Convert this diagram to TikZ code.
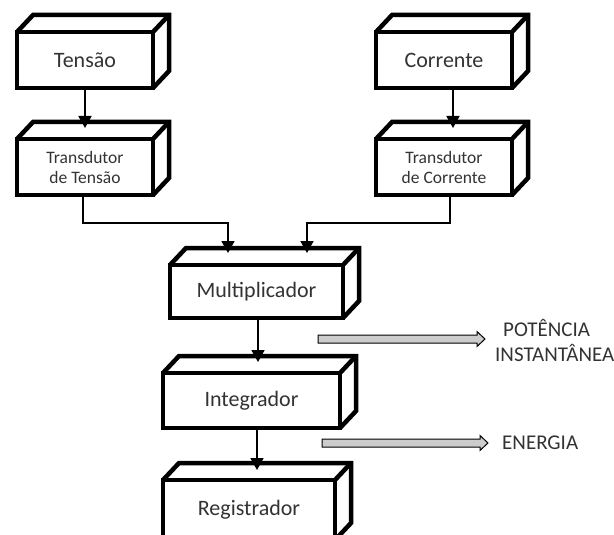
\documentclass[tikz,border=0pt]{standalone}
\usepackage{fontspec}
\setmainfont{Carlito}
\usetikzlibrary{arrows.meta,calc}
\begin{document}
\begin{tikzpicture}[x=1pt,y=-1pt,
  cube/.style={draw=black, line width=4.5pt, fill=white, inner sep=0pt, outer sep=0pt,
    text=black!80, font=\fontsize{22}{25}\selectfont, align=center},
  smalltext/.style={font=\fontsize{17.5}{20}\selectfont},
  cubeside/.style={draw=black, line width=4.5pt, line join=miter},
  conn/.style={draw=black, line width=1.8pt, -{Triangle[width=13pt,length=12pt]}},
  garrow/.style={draw=black, line width=1pt, fill=black!20},
  lbl/.style={text=black!80, font=\fontsize{21}{25}\selectfont, inner sep=0pt, align=left}]
\useasboundingbox (0,0) rectangle (614,535);
\clip (0,0) rectangle (614,535);

% front faces
\node[cube, minimum width=136pt, minimum height=56pt] (tensao) at (85,60) {Tensão};
\node[cube, minimum width=136pt, minimum height=56pt] (corrente) at (444,60) {Corrente};
\node[cube, smalltext, minimum width=136pt, minimum height=56pt] (tt) at (85,167) {Transdutor\\de Tensão};
\node[cube, smalltext, minimum width=136pt, minimum height=56pt] (tc) at (444,167) {Transdutor\\de Corrente};
\node[cube, minimum width=173pt, minimum height=53pt] (mult) at (256.5,291.5) {Multiplicador};
\node[cube, minimum width=177pt, minimum height=55pt] (integ) at (251.5,400.5) {Integrador};
\node[cube, minimum width=172pt, minimum height=60pt] (reg) at (249,510) {Registrador};

% top and side faces
\foreach \n in {tensao,corrente,tt,tc,mult,integ,reg}{
  \draw[cubeside] (\n.north west) -- ++(16,-17) -- ([shift={(16,-17)}]\n.north east)
     -- ([shift={(16,-17)}]\n.south east) -- (\n.south east);
  \draw[cubeside] (\n.north east) -- ++(16,-17);
}

% connectors
\coordinate (ttin) at ([yshift=11pt]tt.north);
\draw[conn] (tensao.south) -- (ttin);
\coordinate (tcin) at ([xshift=9pt,yshift=11pt]tc.north);
\draw[conn] ([xshift=9pt]corrente.south) -- (tcin);

\coordinate (ttout) at ([xshift=-2pt]tt.south);
\coordinate (min1) at ([xshift=-28.5pt,yshift=12pt]mult.north);
\draw[conn] (ttout) -- ++(0,28) -| (min1);
\coordinate (tcout) at ([xshift=6pt]tc.south);
\coordinate (min2) at ([xshift=50.5pt,yshift=12pt]mult.north);
\draw[conn] (tcout) -- ++(0,28) -| (min2);

\coordinate (mout) at ([xshift=1.5pt]mult.south);
\coordinate (iin) at ([yshift=11pt]integ.north);
\draw[conn] (mout) -- (mout |- iin);
\coordinate (iout) at ([xshift=5.5pt]integ.south);
\coordinate (rin) at ([yshift=10pt]reg.north);
\draw[conn] (iout) -- (iout |- rin);

% output labels
\node[lbl, anchor=west] (pot) at (495,340.5) {\hspace*{8pt}POTÊNCIA\\INSTANTÂNEA};
\node[lbl, anchor=west] (en) at (502,443) {ENERGIA};

% gray block arrows
\coordinate (p0) at (318,339);
\coordinate (p1) at (485,339);
\draw[garrow] (p0) ++(0,-4) -- ++(159,0) -- ++(0,-3.5) -- (p1) -- ++(-8,7.5)
   -- ++(0,-3.5) -- ++(-159,0) -- cycle;
\coordinate (e0) at (322,443);
\coordinate (e1) at (488,443);
\draw[garrow] (e0) ++(0,-4) -- ++(158,0) -- ++(0,-3.5) -- (e1) -- ++(-8,7.5)
   -- ++(0,-3.5) -- ++(-158,0) -- cycle;
\end{tikzpicture}
\end{document}
